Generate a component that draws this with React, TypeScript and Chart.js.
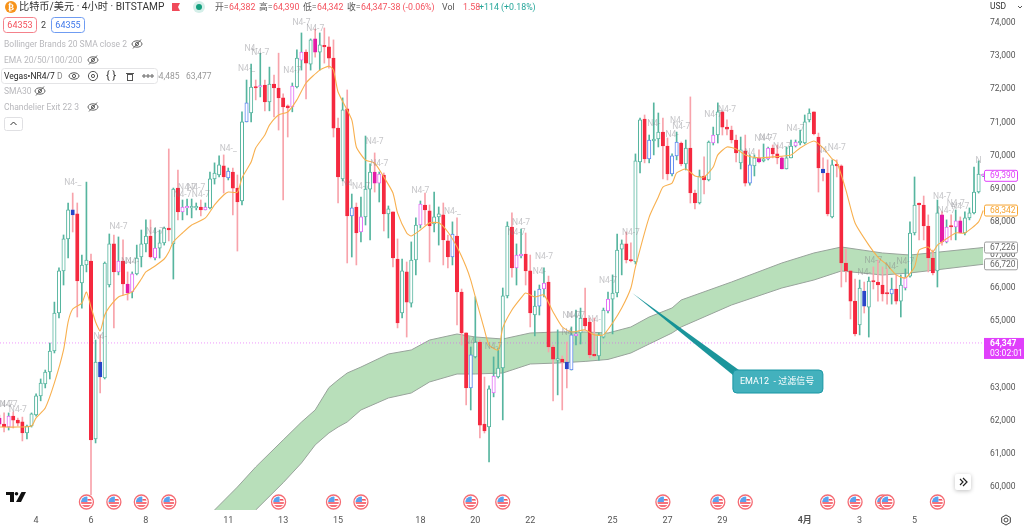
import { useRef, useEffect } from 'react';
import { Chart, registerables } from 'chart.js';

Chart.register(...registerables);

const opens = [
  62080,61900,61810,62140,62020,61965,61630,61840,62175,62750,
  63110,63470,64105,65250,66520,67485,68360,68240,66155,66700,
  66820,61450,63770,63290,66095,67335,66490,66820,66125,65885,
  66430,66940,67335,67575,66910,67210,67365,67815,67335,69020,
  68300,68420,68420,68420,68450,68360,68420,69295,69415,69690,
  69325,69505,69020,68630,71015,71285,72070,72070,72130,71620,
  72160,72040,71740,71500,71470,72070,72880,73120,72760,73520,
  73120,73310,73280,72940,70830,69295,71410,68180,68450,67695,
  68150,68990,69505,69170,69415,68240,68300,66880,65250,66490,
  65550,66850,67905,68510,68330,67940,68150,68210,67425,66940,
  67575,65885,64650,62990,63925,64375,61900,61810,62840,63320,
  63590,65765,67845,66610,66970,67030,66520,65190,65460,65975,
  66185,64225,63830,63860,63770,63530,64560,64650,65100,64980,
  63985,63955,64525,65310,65670,65855,67180,67335,66850,66790,
  69810,71100,69900,70440,70500,70710,70290,69445,69990,70380,
  69750,70230,68870,68570,69385,69265,70380,70620,71320,70860,
  70770,70470,69780,70140,69170,69690,69930,69840,69900,70230,
  70050,69930,69595,69930,70290,70380,70380,71075,71320,70560,
  69595,69475,68150,69720,69690,66760,66520,65610,64890,65915,
  65430,66215,66185,66095,65855,65825,65975,65610,66005,66365,
  67665,68570,68510,67875,66910,66520,68210,67395,67875,67845,
  68030,67665,68120,68270,68900,69390,
];
const closes = [
  61900,61810,62140,62020,61930,61630,61840,62205,62750,63140,
  63470,64105,65250,66520,67485,68360,68210,66215,66700,66850,
  61420,63770,63320,66760,67335,66490,66820,66125,65855,66430,
  66910,67335,67575,66940,67210,67365,67815,67755,68990,68300,
  68450,68450,68450,68450,68360,68450,69295,69475,69720,69355,
  69535,69020,68600,71015,71590,72070,72040,72100,71620,72160,
  72040,71740,71470,71435,72100,72940,73120,72790,73490,73120,
  73340,73280,72940,70830,69355,71380,68180,68420,67665,68150,
  68990,69505,69170,69445,68240,68390,66910,64950,66520,65580,
  66850,67905,68540,68360,67875,68150,68240,67455,66940,67635,
  65885,64650,62990,63985,64375,61870,61690,62960,63350,63590,
  65765,67875,66610,67000,67030,66520,65250,65460,65975,66155,
  64225,63860,63860,63770,63560,64590,64620,65100,64860,63985,
  63955,64590,65340,65670,65855,67150,67335,66850,66820,69840,
  71075,69900,70470,70500,70710,70290,69445,69990,70410,69750,
  70230,68870,68570,69385,69265,70410,70620,71320,70860,70800,
  70470,70080,70170,69170,69720,69930,69810,69900,70230,70050,
  69930,69595,69930,70290,70410,70440,71015,71285,70650,69625,
  69475,68240,69720,69690,66760,66520,65610,64620,66005,65460,
  66215,66185,66095,65825,65825,65975,65610,66095,66335,67665,
  68510,68510,67875,66910,66460,68270,67395,67845,67845,68030,
  67665,68120,68270,68900,69445,69420,
];
const highs = [
  62170,62235,62235,62265,62080,62110,61870,62235,62810,63260,
  63530,64345,65580,66610,67605,68570,68870,68570,67000,69200,
  67030,64435,64590,66790,67635,67605,67545,67455,66490,66490,
  67300,67755,68060,68060,67815,67755,67845,70200,69020,69565,
  68660,68690,68690,68570,68660,68570,69505,69780,69990,70020,
  69625,69625,69415,71320,72280,72760,72280,73090,72280,72670,
  72430,73090,71860,71530,72190,73190,73700,73190,73520,73820,
  73700,73850,73580,73490,71135,71740,71980,68840,68570,68750,
  70590,69750,70080,69505,69475,68480,68300,67485,66880,66790,
  67395,68120,68630,68870,68510,68900,68450,68570,67605,68000,
  68120,65975,64650,64225,65735,64435,63320,63050,63925,64195,
  66005,68000,68270,67335,67785,67665,67000,65915,66095,66610,
  66365,64285,64740,63955,64375,64830,65340,65400,66005,65100,
  65100,64650,65400,65885,66400,67635,67455,67695,67365,70050,
  71135,71225,70620,71590,71285,71135,70530,70050,70710,70410,
  70470,71770,68960,69565,69960,70440,70860,71590,71320,71075,
  70890,70620,70560,70620,70020,70020,70170,70350,70260,70320,
  70320,69960,70260,70470,70470,70770,71225,71410,71320,70680,
  69930,69870,69870,69870,69720,67180,66520,66275,66245,66185,
  66335,66640,66850,66640,66580,66305,66400,66400,66580,68000,
  69355,68570,68780,68210,67150,68660,68300,68060,68210,68360,
  68150,68300,68420,69655,69840,69440,
];
const lows = [
  61840,61660,61720,61780,61840,61390,61450,61810,62140,62600,
  62990,63260,64045,65100,66095,66910,67695,65130,65400,66490,
  59760,61330,62840,63260,66035,64800,66400,65795,65640,65705,
  66400,66640,67090,66910,66850,66910,67300,67425,66275,68060,
  68060,68210,68120,68360,68180,68360,68390,69140,69355,68870,
  69265,68210,67120,68510,71015,71015,71680,71770,71350,71350,
  71165,70770,68660,70560,71320,72040,72580,71710,72580,72970,
  72580,72790,72640,70560,68570,69235,66760,66940,66700,67395,
  67905,67455,68900,68600,67725,67515,66640,64800,65100,64525,
  65430,66400,67815,67905,66790,67695,67300,66700,66610,66700,
  64890,64285,62475,62325,63895,61480,61630,60755,62720,63290,
  62025,65705,66335,66095,66910,66095,64830,64560,65190,65735,
  64075,62600,62780,62325,62990,63530,64285,64315,64740,63895,
  63925,63830,64495,65250,64620,65735,66400,66760,66790,66730,
  69475,69780,69780,70020,70260,69295,69265,69385,69870,69690,
  69565,68570,68390,68540,68840,69235,70320,70380,70620,70620,
  70380,69810,69595,69080,69110,69385,69780,69810,69870,69930,
  69750,69595,69595,69930,70260,70320,70350,71015,70620,68900,
  69235,68180,68120,69355,66035,66185,65070,64560,64590,65250,
  64525,65975,65610,65610,65520,65520,65520,65130,65945,66335,
  67605,67455,67455,66490,66400,66035,67300,67365,67455,67455,
  67665,67605,68060,68240,68870,69360,
];

// candles that the indicator paints another colour
const blueBars = [16,22,50,54,77,99,103,118,124,125,142,147,148,164,180,189,195];
const magentaBars = [0,2,26,28,29,34,40,41,45,57,64,66,69,79,82,83,92,108,113,114,119,126,133,156,166,168,171,174,198,206,207,209,210,215];

const emaBars = [0,4,7,8,10,12,14,15,16,18,19,20,21,22,23,24,26,28,29,31,32,34,36,37,38,40,42,45,47,49,50,52,53,55,56,58,59,61,63,65,67,70,72,73,74,77,78,80,82,84,86,87,89,90,92,94,96,98,100,102,103,104,106,107,109,110,112,114,115,117,119,121,123,125,128,130,132,134,136,138,139,142,144,145,147,148,150,152,154,156,157,159,161,163,166,169,173,175,178,180,182,183,185,187,190,192,194,196,198,200,201,203,204,205,206,209,211,214,215];
const emaValues = [61810,61810,61840,62085,62385,63140,64135,64980,65370,65550,65885,65430,64980,64710,65190,65430,65735,65825,65885,66275,66490,66670,66880,67090,67395,67665,67905,68120,68510,68810,68900,68900,69325,69805,70230,70620,70920,71225,71315,71680,72190,72580,72700,72580,71920,71075,70260,69865,69775,69355,68870,68270,67665,67575,67755,67970,67970,67695,67240,66640,66245,65735,64740,64285,64135,64800,65340,65705,65855,65735,65795,65280,64830,64680,64740,64590,64590,64950,65400,66005,66640,68145,68750,69050,69170,69475,69595,69385,69355,69655,70020,70260,70200,70020,69930,69960,70020,70230,70440,70230,69900,69805,68960,67965,67300,66940,66700,66400,66305,66640,67150,67240,67090,67300,67395,67665,67665,68000,68342];

const bandBars = [47,52,56,62,66,69,72,74,76,79,85,90,94,100,104,110,116,122,128,133,138,142,147,149,160,171,178,184,193,199,215];
const bandUpper = [59307,60000,60605,61420,61960,62325,63000,63230,63440,63620,64014,64135,64435,64617,64527,64466,64647,64678,64678,64647,64829,65130,65402,65643,66186,66760,67061,67242,67061,67000,67226];
const bandLower = [58060,58750,59307,60130,60725,61270,61630,61810,61962,62325,62686,62837,63170,63410,63410,63440,63712,63742,63790,63850,64044,64315,64648,64829,65492,66005,66246,66518,66397,66458,66720];

const priceTicks = [60000,61000,62000,63000,64000,65000,66000,67000,68000,69000,70000,71000,72000,73000,74000];
const dateBars = [8,20,32,50,62,74,92,104,116,134,146,158,176,188,200];
const dateLabels = ['4','6','8','11','13','15','18','20','22','25','27','29','4月','3','5'];

const eventBars = [19,25,31,37,61,73,79,103,110,145,157,163,181,187,193,194,205];

const noteBars = [66,69,55,57,54,64,50,16,26,28,29,34,41,43,40,44,22,1,2,4,82,83,76,79,92,99,114,113,119,138,143,118,133,126,125,130,124,108,103,148,149,147,156,159,167,168,171,174,183,180,164,206,209,210,207,214,191,189,195,198];
const notePrices = [74000,73820,73216,73095,72612,72552,70199,69173,67845,66790,66790,67695,69022,69022,68811,68811,64527,62475,62475,62325,70410,69746,69143,69052,68930,68298,67966,67664,66940,67664,70953,66488,66216,65160,65160,65040,64647,64225,64375,71043,70862,70621,71225,71375,70500,70530,70259,70802,70229,70138,70078,68750,68539,68449,68328,69837,66820,66458,66638,66790];
const noteTexts = ['N4-7','N4-7','N4-','N4-7','N4-_','N4-7','N4-_','N4-_','N4-7','N4-','N4-','N4-7','N4-7','N4-7','N4-7','N4-7','N4-','N4-7','N4-7','N4-7','N4-7','N4-7','N4','N4-7','N4-7','N4-_','N4-7','N4-7','N4-7','N4-7','N4-','N4-','N4-7','N4-7','N4-7','N4-','N4','N4-7','N4-','N4-','N4-7','N4-','N4-7','N4-7','N4-7','N4-7','N4-7','N4-7','N4-7','N4-','N4','N4-7','N4-7','N4-7','N4-7','N','N4-7','N4-','N4-','N4-7'];

const lastPrice = 64347;
const lastCountdown = '03:02:01';
const priceTags = [69390,68342,67226,66720];
const priceTagColors = ['#e040fb','#f7a532','#9e9e9e','#9e9e9e'];

const firstBar = 0.11;
const lastBar = 215.4;

const sans = 'Roboto, "Noto Sans CJK SC", sans-serif';
const GREEN = '#56b59f';
const RED = '#f5293f';
const RED_WICK = '#f8a3ab';

function bodyColor(i: number) {
  const up = closes[i] >= opens[i];
  if (blueBars.includes(i)) return up ? '#5b86ee' : '#2a46c8';
  if (magentaBars.includes(i)) return up ? '#e26cf5' : '#e31ba6';
  return up ? GREEN : RED;
}

function label(ctx: CanvasRenderingContext2D, s: string, x: number, y: number, color: string, font = `8.5px ${sans}`, align: CanvasTextAlign = 'left') {
  ctx.font = font;
  ctx.fillStyle = color;
  ctx.textAlign = align;
  ctx.textBaseline = 'middle';
  ctx.fillText(s, x, y);
}

function eye(ctx: CanvasRenderingContext2D, x: number, y: number, color: string, crossed: boolean) {
  ctx.strokeStyle = color;
  ctx.lineWidth = 1;
  ctx.beginPath();
  ctx.ellipse(x, y, 5, 3.2, 0, 0, Math.PI * 2);
  ctx.moveTo(x + 1.6, y);
  ctx.arc(x, y, 1.6, 0, Math.PI * 2);
  if (crossed) {
    ctx.moveTo(x - 4, y + 4.5);
    ctx.lineTo(x + 4, y - 4.5);
  }
  ctx.stroke();
}

function roundBox(ctx: CanvasRenderingContext2D, x: number, y: number, w: number, h: number, r: number, fill: string, stroke?: string) {
  ctx.beginPath();
  ctx.roundRect(x, y, w, h, r);
  ctx.fillStyle = fill;
  ctx.fill();
  if (stroke) {
    ctx.strokeStyle = stroke;
    ctx.lineWidth = 1;
    ctx.stroke();
  }
}

function flag(ctx: CanvasRenderingContext2D, x: number, y: number) {
  ctx.save();
  ctx.beginPath();
  ctx.arc(x, y, 7, 0, Math.PI * 2);
  ctx.fillStyle = '#fff';
  ctx.fill();
  ctx.strokeStyle = '#f56b73';
  ctx.lineWidth = 1.3;
  ctx.stroke();
  ctx.beginPath();
  ctx.arc(x, y, 5.4, 0, Math.PI * 2);
  ctx.clip();
  ctx.fillStyle = '#f4515d';
  ctx.fillRect(x - 6, y + 0.2, 12, 1.6);
  ctx.fillRect(x - 6, y + 3.2, 12, 1.6);
  ctx.fillRect(x + 1, y - 3, 6, 1.6);
  ctx.fillStyle = '#5aa2ee';
  ctx.fillRect(x - 6, y - 6, 7, 6);
  ctx.restore();
}

const notesPlugin = {
  id: 'notes',
  afterDatasetsDraw(chart: any) {
    const { ctx, scales } = chart;
    ctx.save();
    noteBars.forEach((b, i) => {
      label(ctx, noteTexts[i], scales.x.getPixelForValue(b), scales.y.getPixelForValue(notePrices[i]), 'rgba(125,125,130,0.45)', `8.5px ${sans}`, 'center');
    });
    eventBars.forEach(b => flag(ctx, scales.x.getPixelForValue(b), 502));
    ctx.restore();
  },
};

const overlayPlugin = {
  id: 'overlay',
  afterDraw(chart: any) {
    const { ctx, scales } = chart;
    const right = chart.chartArea.right;
    ctx.save();

    // callout pointing at the EMA line
    const tipX = scales.x.getPixelForValue(138.3);
    const tipY = scales.y.getPixelForValue(65855);
    const boxX = scales.x.getPixelForValue(160.3);
    const boxY = scales.y.getPixelForValue(63530);
    ctx.beginPath();
    ctx.moveTo(tipX, tipY);
    ctx.lineTo(boxX + 6, boxY);
    ctx.lineTo(boxX, boxY + 5);
    ctx.closePath();
    ctx.fillStyle = 'rgba(8,140,146,0.92)';
    ctx.fill();
    roundBox(ctx, boxX, boxY, 90, 23, 4, '#43b1bd', '#1a97a4');
    label(ctx, 'EMA12  - 过滤信号', boxX + 7, boxY + 12, '#fff', `9px ${sans}`);

    // price tags on the axis
    priceTags.forEach((v, i) => {
      const y = scales.y.getPixelForValue(v);
      roundBox(ctx, right - 0.5, y - 5.5, 33, 11, 1.5, '#fff', priceTagColors[i]);
      label(ctx, v.toLocaleString('en-US'), right + 5, y + 0.5, priceTagColors[i] === '#9e9e9e' ? '#666' : priceTagColors[i]);
    });
    const lastY = scales.y.getPixelForValue(lastPrice);
    ctx.fillStyle = '#e040fb';
    ctx.fillRect(right - 1, lastY - 5, 40, 21);
    label(ctx, lastPrice.toLocaleString('en-US'), right + 5, lastY + 0.5, '#fff', `bold 8.5px ${sans}`);
    label(ctx, lastCountdown, right + 5, lastY + 10.5, '#fff');

    // symbol line
    ctx.beginPath();
    ctx.arc(11, 7, 6, 0, Math.PI * 2);
    ctx.fillStyle = '#f7931a';
    ctx.fill();
    label(ctx, '₿', 11, 7.5, '#fff', 'bold 9px "DejaVu Sans"', 'center');
    label(ctx, '比特币/美元 · 4小时 · BITSTAMP', 19, 7.5, '#333', `10.2px ${sans}`);
    ctx.fillStyle = '#f04a5a';
    ctx.beginPath();
    ctx.moveTo(172, 3);
    ctx.lineTo(180, 3);
    ctx.lineTo(178, 7);
    ctx.lineTo(180, 11);
    ctx.lineTo(172, 11);
    ctx.closePath();
    ctx.fill();
    ctx.beginPath();
    ctx.arc(199, 7, 6, 0, Math.PI * 2);
    ctx.fillStyle = '#d5efe9';
    ctx.fill();
    ctx.beginPath();
    ctx.arc(199, 7, 3, 0, Math.PI * 2);
    ctx.fillStyle = '#14a07f';
    ctx.fill();

    const ohlc: [string, number, string][] = [['开=', 215, '64,382'], ['高=', 259, '64,390'], ['低=', 303, '64,342'], ['收=', 347, '64,347']];
    ohlc.forEach(([k, x, v]) => {
      label(ctx, k, x, 7.5, '#555', `8.8px ${sans}`);
      label(ctx, v, x + 14, 7.5, '#f4515d', `8.8px ${sans}`);
    });
    label(ctx, '-38 (-0.06%)', 388, 7.5, '#f4515d', `8.8px ${sans}`);
    label(ctx, 'Vol', 442, 7.5, '#555', `8.8px ${sans}`);
    label(ctx, '1.58', 463, 7.5, '#f4515d', `8.8px ${sans}`);
    label(ctx, '+114 (+0.18%)', 479, 7.5, '#26a69a', `8.8px ${sans}`);

    // bid / ask boxes
    roundBox(ctx, 3.5, 17.5, 33, 15, 3, '#fff', '#f4818b');
    label(ctx, '64353', 20, 25.5, '#f4515d', `9px ${sans}`, 'center');
    label(ctx, '2', 43.5, 25.5, '#444', `9px ${sans}`, 'center');
    roundBox(ctx, 51.5, 17.5, 33, 15, 3, '#fff', '#6f9cf2');
    label(ctx, '64355', 68, 25.5, '#3f78ea', `9px ${sans}`, 'center');

    // indicator list
    const faded = '#b8b8bc';
    label(ctx, 'Bollinger Brands 20 SMA close 2', 4, 44.5, faded);
    eye(ctx, 137, 44, '#666', true);
    label(ctx, 'EMA 20/50/100/200', 4, 60.5, faded);
    eye(ctx, 93, 60, '#666', true);
    label(ctx, '64,485', 154, 76.5, '#999');
    label(ctx, '63,477', 186, 76.5, '#999');
    roundBox(ctx, 1.5, 68.5, 156, 15, 3, '#fff', '#e4e4e6');
    label(ctx, 'Vegas•NR4/7', 4, 76.5, '#222');
    label(ctx, 'D', 57, 76.5, '#888');
    eye(ctx, 74, 76, '#555', false);
    ctx.beginPath();
    ctx.arc(93, 76, 4.6, 0, Math.PI * 2);
    ctx.moveTo(94.6, 76);
    ctx.arc(93, 76, 1.6, 0, Math.PI * 2);
    ctx.strokeStyle = '#555';
    ctx.stroke();
    label(ctx, '{ }', 111, 76, '#333', `11px ${sans}`, 'center');
    ctx.strokeRect(127.5, 74.5, 5, 6);
    ctx.beginPath();
    ctx.moveTo(126, 73.5);
    ctx.lineTo(134, 73.5);
    ctx.stroke();
    [144, 148, 152].forEach(x => {
      ctx.beginPath();
      ctx.arc(x, 76, 1.2, 0, Math.PI * 2);
      ctx.stroke();
    });
    label(ctx, 'SMA30', 4, 91.5, faded);
    eye(ctx, 40, 91, '#666', true);
    label(ctx, 'Chandelier Exit 22 3', 4, 107.5, faded);
    eye(ctx, 93, 107, '#666', true);
    roundBox(ctx, 4.5, 117.5, 18, 13, 2, '#fff', '#e0e0e3');
    ctx.beginPath();
    ctx.moveTo(10.5, 125);
    ctx.lineTo(13.5, 122);
    ctx.lineTo(16.5, 125);
    ctx.strokeStyle = '#333';
    ctx.stroke();

    // corner bits
    label(ctx, 'USD', 990, 6.5, '#333');
    ctx.beginPath();
    ctx.moveTo(1018, 6);
    ctx.lineTo(1020, 8);
    ctx.lineTo(1022, 6);
    ctx.strokeStyle = '#555';
    ctx.stroke();

    ctx.fillStyle = '#111';
    ctx.fillRect(6, 492, 8, 3);
    ctx.fillRect(10, 492, 4, 10);
    ctx.beginPath();
    ctx.arc(16.5, 493.8, 1.8, 0, Math.PI * 2);
    ctx.fill();
    ctx.beginPath();
    ctx.moveTo(21.5, 492);
    ctx.lineTo(26, 492);
    ctx.lineTo(21, 502);
    ctx.lineTo(16, 502);
    ctx.closePath();
    ctx.fill();

    ctx.shadowColor = 'rgba(0,0,0,0.25)';
    ctx.shadowBlur = 4;
    ctx.shadowOffsetY = 1;
    roundBox(ctx, 955, 474, 16, 16, 2, '#fff');
    ctx.shadowColor = 'transparent';
    ctx.beginPath();
    ctx.moveTo(960, 479);
    ctx.lineTo(963, 482);
    ctx.lineTo(960, 485);
    ctx.moveTo(963, 478);
    ctx.lineTo(967, 482);
    ctx.lineTo(963, 486);
    ctx.strokeStyle = '#222';
    ctx.lineWidth = 1.2;
    ctx.stroke();

    ctx.beginPath();
    for (let k = 0; k < 6; k++) {
      const a = Math.PI / 6 + (k * Math.PI) / 3;
      ctx.lineTo(1006 + 5 * Math.cos(a), 520 + 5 * Math.sin(a));
    }
    ctx.closePath();
    ctx.moveTo(1008, 520);
    ctx.arc(1006, 520, 2, 0, Math.PI * 2);
    ctx.strokeStyle = '#444';
    ctx.lineWidth = 1;
    ctx.stroke();
    ctx.restore();
  },
};

export default function App() {
  const canvasRef = useRef<HTMLCanvasElement>(null);

  useEffect(() => {
    const canvas = canvasRef.current;
    if (!canvas) return;
    const context = canvas.getContext('2d');
    if (!context) return;
    const allBars = opens.map((_, i) => i);
    const chart = new Chart(context, {
      type: 'bar',
      data: {
        datasets: [
          {
            type: 'line',
            label: 'Vegas upper',
            data: bandBars.map((b, i) => ({ x: b, y: bandUpper[i] })),
            borderColor: '#98a39b',
            borderWidth: 1,
            pointRadius: 0,
            backgroundColor: '#b8dfba',
            fill: 1,
            order: 9,
          },
          {
            type: 'line',
            label: 'Vegas lower',
            data: bandBars.map((b, i) => ({ x: b, y: bandLower[i] })),
            borderColor: '#98a39b',
            borderWidth: 1,
            pointRadius: 0,
            order: 8,
          },
          {
            type: 'line',
            label: 'last',
            data: [{ x: firstBar, y: lastPrice }, { x: lastBar, y: lastPrice }],
            borderColor: 'rgba(224,64,251,0.55)',
            borderWidth: 1,
            borderDash: [1, 2],
            pointRadius: 0,
            order: 7,
          },
          {
            label: 'wick',
            data: allBars.map(i => ({ x: i, y: [lows[i], highs[i]] })),
            backgroundColor: allBars.map(i => (closes[i] >= opens[i] ? GREEN : RED_WICK)),
            barThickness: 1,
            grouped: false,
            order: 3,
          },
          {
            label: 'body',
            data: allBars.map(i => ({ x: i, y: [Math.min(opens[i], closes[i]), Math.max(opens[i], closes[i])] })),
            backgroundColor: allBars.map(i => (closes[i] >= opens[i] ? '#fff' : bodyColor(i))),
            borderColor: allBars.map(i => bodyColor(i)),
            borderWidth: 1,
            borderSkipped: false,
            barThickness: 3.4,
            minBarLength: 1.5,
            grouped: false,
            order: 2,
          },
          {
            type: 'line',
            label: 'EMA12',
            data: emaBars.map((b, i) => ({ x: b, y: emaValues[i] })),
            borderColor: '#f8b04f',
            borderWidth: 1.1,
            tension: 0.2,
            pointRadius: 0,
            order: 1,
          },
        ],
      } as any,
      options: {
        animation: false,
        responsive: false,
        devicePixelRatio: 1,
        events: [],
        layout: { padding: 0 },
        plugins: { legend: { display: false }, tooltip: { enabled: false } },
        scales: {
          x: {
            type: 'linear',
            offset: false,
            min: firstBar,
            max: lastBar,
            grid: { display: false, drawTicks: false },
            border: { display: false },
            afterBuildTicks: (scale: any) => {
              scale.ticks = dateBars.map(value => ({ value }));
            },
            afterFit: (scale: any) => {
              scale.height = 16;
              scale.paddingLeft = 0;
              scale.paddingRight = 0;
            },
            ticks: {
              autoSkip: false,
              maxRotation: 0,
              padding: 5,
              color: '#555',
              font: (c: any) => ({ family: sans, size: 9, weight: dateLabels[c.index] === '4月' ? 'bold' : 'normal' }),
              callback: (_v: any, i: number) => dateLabels[i],
            },
          },
          y: {
            position: 'right',
            min: 59307,
            max: 74694,
            grid: { display: false, drawTicks: false },
            border: { display: false },
            afterBuildTicks: (scale: any) => {
              scale.ticks = priceTicks.map(value => ({ value }));
            },
            afterFit: (scale: any) => {
              scale.width = 39;
              scale.paddingTop = 0;
              scale.paddingBottom = 0;
            },
            ticks: {
              padding: 5,
              color: '#555',
              font: { family: sans, size: 8.5 },
              callback: (v: any) => Number(v).toLocaleString('en-US'),
            },
          },
        },
      } as any,
      plugins: [notesPlugin, overlayPlugin],
    });
    return () => {
      chart.destroy();
    };
  }, []);

  return (
    <div style={{ position: 'fixed', left: 0, top: 0, width: 1024, height: 526, background: '#fff' }}>
      <canvas ref={canvasRef} width={1024} height={526} style={{ display: 'block' }} />
    </div>
  );
}
